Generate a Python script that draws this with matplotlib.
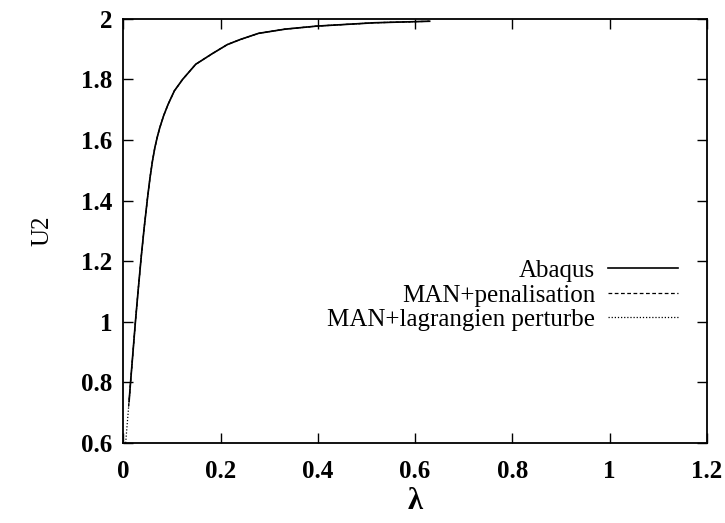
import matplotlib
matplotlib.use("Agg")
import matplotlib.pyplot as plt
from matplotlib.ticker import FuncFormatter

# points (lambda, U2)
lam_abaqus = [0.012, 0.015, 0.020, 0.025, 0.031, 0.037, 0.043, 0.050, 0.055, 0.060, 0.065,
              0.070, 0.075, 0.083, 0.092, 0.105, 0.122, 0.149, 0.184, 0.214, 0.241,
              0.278, 0.333, 0.398, 0.516, 0.630]
u2_abaqus = [0.737, 0.80, 0.90, 1.00, 1.11, 1.215, 1.31, 1.41, 1.475, 1.53, 1.575,
             1.61, 1.64, 1.68, 1.717, 1.762, 1.80, 1.85, 1.886, 1.915, 1.932,
             1.952, 1.966, 1.976, 1.987, 1.992]

lam_pen = [0.011, 0.015, 0.020, 0.025, 0.031, 0.037, 0.043, 0.050, 0.055, 0.060, 0.065,
           0.070, 0.075, 0.083, 0.092, 0.105, 0.122, 0.149, 0.184, 0.214, 0.241,
           0.278, 0.333, 0.398, 0.516, 0.630]
u2_pen = [0.72, 0.80, 0.90, 1.00, 1.11, 1.215, 1.31, 1.41, 1.475, 1.53, 1.575,
          1.61, 1.64, 1.68, 1.717, 1.762, 1.80, 1.85, 1.886, 1.915, 1.932,
          1.952, 1.966, 1.976, 1.987, 1.992]

lam_lag = [0.005, 0.008, 0.012, 0.015, 0.020, 0.025, 0.031, 0.037, 0.043, 0.050, 0.055,
           0.060, 0.065, 0.070, 0.075, 0.083, 0.092, 0.105, 0.122, 0.149, 0.184,
           0.214, 0.241, 0.278, 0.333, 0.398, 0.516, 0.630]
u2_lag = [0.60, 0.66, 0.737, 0.80, 0.90, 1.00, 1.11, 1.215, 1.31, 1.41, 1.475,
          1.53, 1.575, 1.61, 1.64, 1.68, 1.717, 1.762, 1.80, 1.85, 1.886,
          1.915, 1.932, 1.952, 1.966, 1.976, 1.987, 1.992]

xticks = [0, 0.2, 0.4, 0.6, 0.8, 1, 1.2]
yticks = [0.6, 0.8, 1, 1.2, 1.4, 1.6, 1.8, 2]

plt.rcParams['font.family'] = ['Liberation Serif', 'DejaVu Serif']

fig = plt.figure(figsize=(7.25, 5.23), dpi=100)
ax = fig.add_axes([0.170, 0.153, 0.805, 0.811])

ax.plot(lam_abaqus, u2_abaqus, color='black', lw=1.2, ls='-', label='Abaqus')
ax.plot(lam_pen, u2_pen, color='black', lw=0.9, ls=(0, (3, 2)), label='MAN+penalisation')
ax.plot(lam_lag, u2_lag, color='black', lw=0.9, ls=(0, (1, 1.5)), label='MAN+lagrangien perturbe')

ax.set_xlim(0, 1.2)
ax.set_ylim(0.6, 2)
ax.set_xticks(xticks)
ax.set_yticks(yticks)
fmt = FuncFormatter(lambda v, p: ('%g' % round(v, 2)))
ax.xaxis.set_major_formatter(fmt)
ax.yaxis.set_major_formatter(fmt)
ax.tick_params(direction='in', length=7, width=1, top=True, right=True,
               labelsize=18, pad=8)
ax.tick_params(axis='x', pad=12)
for lab in ax.get_xticklabels() + ax.get_yticklabels():
    lab.set_fontweight('bold')
for s in ax.spines.values():
    s.set_linewidth(1.3)

ax.set_xlabel('λ', fontsize=22, fontweight='bold', labelpad=3)
ax.set_ylabel('U2', fontsize=18, labelpad=20)

leg = ax.legend(loc='center right', bbox_to_anchor=(0.972, 0.348), frameon=False,
                markerfirst=False, fontsize=18, handlelength=2.8, handletextpad=0.52,
                labelspacing=0.08, borderpad=0)

fig.savefig('out.png', dpi=100)
